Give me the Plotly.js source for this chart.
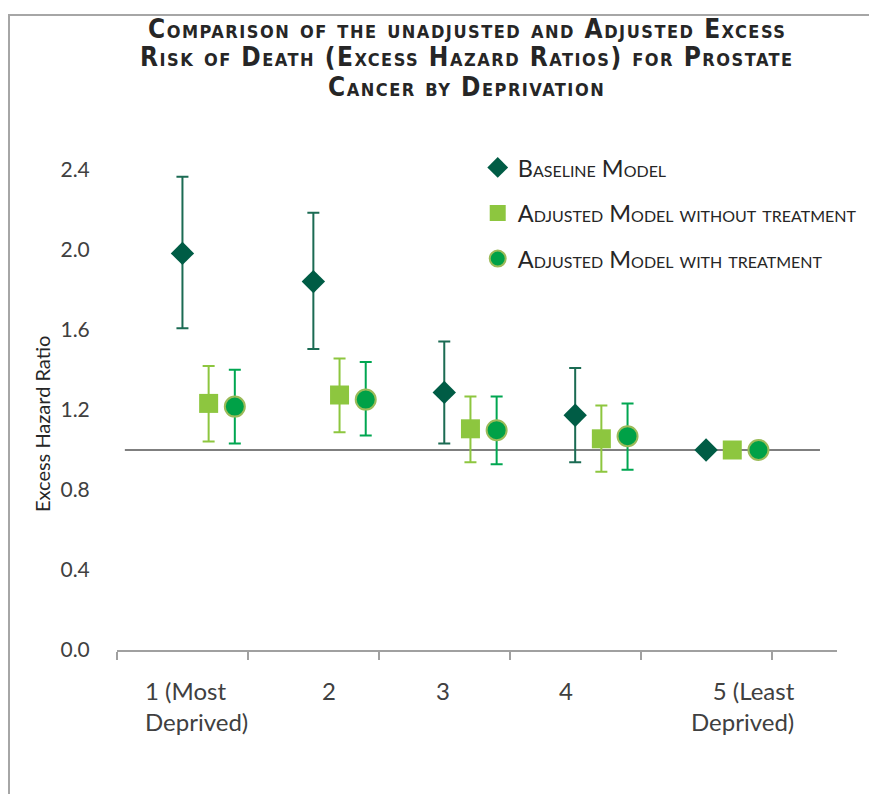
<!DOCTYPE html>
<html>
<head>
<meta charset="utf-8">
<script src="https://cdn.plot.ly/plotly-3.0.1.min.js"></script>
<style>
  html, body { margin: 0; padding: 0; background: #fff; overflow: hidden; }
  #wrap { position: relative; width: 869px; height: 794px; overflow: hidden; }
  #chart { position: absolute; left: 0; top: 0; width: 869px; height: 794px; }
  #frame { position: absolute; left: 8px; top: 14px; width: 900px; height: 900px;
           border-left: 2px solid #a6a6a6; border-top: 2px solid #a6a6a6; pointer-events: none; }
</style>
</head>
<body>
<div id="wrap">
  <div id="chart"></div>
  <div id="frame"></div>
</div>
<script>
// ---- data ----
var categories = [1, 2, 3, 4, 5];
var categoryLabels = ["1 (Most<br>Deprived)", "2", "3", "4", "5 (Least<br>Deprived)"];
var labelPositions = [1.11, 2.12, 2.99, 3.93, 5.28];

var baseline    = [1.983, 1.842, 1.288, 1.174, 1.000];
var baselineLo  = [1.609, 1.505, 1.032, 0.939, null];
var baselineHi  = [2.366, 2.186, 1.543, 1.410, null];

var adjNoTx     = [1.233, 1.275, 1.106, 1.056, 1.000];
var adjNoTxLo   = [1.042, 1.089, 0.939, 0.891, null];
var adjNoTxHi   = [1.420, 1.458, 1.268, 1.222, null];

var adjTx       = [1.217, 1.252, 1.099, 1.069, 1.000];
var adjTxLo     = [1.032, 1.072, 0.929, 0.901, null];
var adjTxHi     = [1.401, 1.440, 1.268, 1.232, null];

var yTicks = [0.0, 0.4, 0.8, 1.2, 1.6, 2.0, 2.4];
var yTickText = ["0.0", "0.4", "0.8", "1.2", "1.6", "2.0", "2.4"];
var refLineX = [0.56, 5.87];
var refLineY = [1, 1];

var titleLines = [
  "Comparison of the unadjusted and Adjusted Excess",
  "Risk of Death (Excess Hazard Ratios) for Prostate",
  "Cancer by Deprivation"
];
var titleLineY = [1.2938, 1.2354, 1.1729]; // paper y of each title line

// ---- helpers ----
function shift(arr, d) { return arr.map(function (v) { return v + d; }); }
function plus(hi, v) { return hi.map(function (h, i) { return h == null ? null : h - v[i]; }); }
function minus(lo, v) { return lo.map(function (l, i) { return l == null ? null : v[i] - l; }); }

var cDark = "#005c45", cDarkBar = "#1b6b53";
var cLight = "#8dc63f";
var cMid = "#00a147", cMidBar = "#00a651", cMidEdge = "#9bbb59";

var traces = [
  {
    x: refLineX, y: refLineY, type: "scatter", mode: "lines",
    line: { color: "#7f7f7f", width: 2 }, showlegend: false, hoverinfo: "skip"
  },
  {
    name: "Baseline Model", x: shift(categories, 0), y: baseline,
    type: "scatter", mode: "markers", legendgroup: "a",
    marker: { symbol: "diamond", size: 18, color: cDark },
    error_y: { type: "data", symmetric: false, array: plus(baselineHi, baseline),
               arrayminus: minus(baselineLo, baseline), color: cDarkBar, thickness: 2, width: 6 }
  },
  {
    name: "Adjusted Model without treatment", x: shift(categories, 0.2), y: adjNoTx,
    type: "scatter", mode: "markers", legendgroup: "b",
    marker: { symbol: "square", size: 19, color: cLight },
    error_y: { type: "data", symmetric: false, array: plus(adjNoTxHi, adjNoTx),
               arrayminus: minus(adjNoTxLo, adjNoTx), color: cLight, thickness: 2, width: 6 }
  },
  {
    name: "Adjusted Model with treatment", x: shift(categories, 0.4), y: adjTx,
    type: "scatter", mode: "markers", legendgroup: "c",
    marker: { symbol: "circle", size: 20, color: cMid, line: { color: cMidEdge, width: 2 } },
    error_y: { type: "data", symmetric: false, array: plus(adjTxHi, adjTx),
               arrayminus: minus(adjTxLo, adjTx), color: cMidBar, thickness: 2, width: 6 }
  }
];

var annotations = categoryLabels.map(function (t, i) {
  return {
    text: t, x: labelPositions[i], xref: "x", y: 0, yref: "y",
    yanchor: "top", yshift: -24, xanchor: "center", showarrow: false,
    align: i === 4 ? "right" : "left",
    font: { family: "Lato, 'Open Sans', sans-serif", size: 24, color: "#404040" }
  };
});
annotations.push({
  text: "Excess Hazard Ratio", xref: "paper", yref: "paper", x: -0.104, y: 0.471,
  xanchor: "center", yanchor: "middle", textangle: -90, showarrow: false,
  font: { family: "Lato, 'Open Sans', sans-serif", size: 20, color: "#262626" }
});
titleLines.forEach(function (s, i) {
  annotations.push({
    text: "<span style='letter-spacing:1.5px'>" + s + "</span>",
    xref: "paper", yref: "paper", x: 0.486, y: titleLineY[i],
    xanchor: "center", yanchor: "middle", showarrow: false,
    font: { family: "'DejaVu Sans Condensed', 'Liberation Sans Narrow', sans-serif",
            size: 26, weight: 700, variant: "small-caps", color: "#262626" }
  });
});

var layout = {
  width: 869, height: 794,
  margin: { l: 117, r: 32, t: 170, b: 144, autoexpand: false },
  paper_bgcolor: "rgba(0,0,0,0)", plot_bgcolor: "rgba(0,0,0,0)",
  xaxis: {
    range: [0.5, 6.0], showgrid: false, zeroline: false,
    showline: true, linecolor: "#a0a0a0", linewidth: 2,
    tickmode: "linear", tick0: 0.5, dtick: 1,
    ticks: "outside", ticklen: 8, tickwidth: 2, tickcolor: "#a0a0a0",
    showticklabels: false, fixedrange: true
  },
  yaxis: {
    range: [0, 2.4], showgrid: false, zeroline: false, showline: false,
    tickmode: "array", tickvals: yTicks, ticktext: yTickText,
    ticks: "outside", ticklen: 22, tickcolor: "rgba(0,0,0,0)",
    tickfont: { family: "Lato, 'Open Sans', sans-serif", size: 21, color: "#404040" },
    fixedrange: true
  },
  showlegend: true,
  legend: {
    x: 0.501, xanchor: "left", y: 0.91, yanchor: "middle", yref: "paper",
    bgcolor: "rgba(0,0,0,0)", tracegroupgap: 12,
    font: { family: "Lato, 'Open Sans', sans-serif", size: 23.5, variant: "small-caps", color: "#262626" }
  },
  annotations: annotations
};

Plotly.newPlot("chart", traces, layout, { displayModeBar: false, staticPlot: true });
</script>
</body>
</html>
